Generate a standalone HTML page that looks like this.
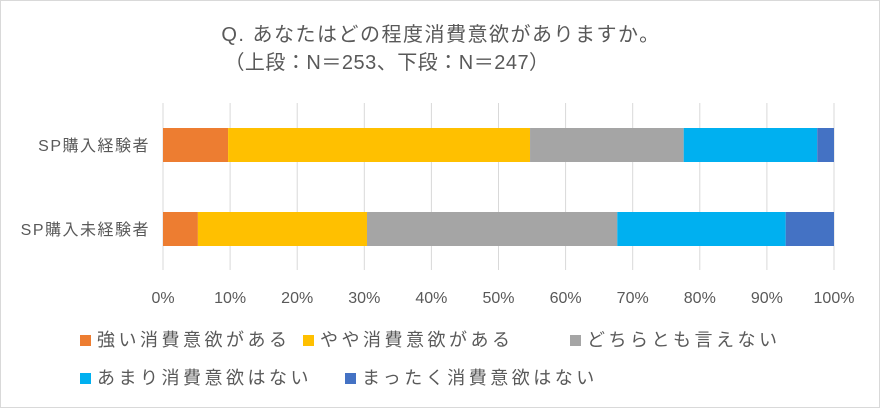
<!DOCTYPE html>
<html><head><meta charset="utf-8"><style>
body{margin:0;background:#fff}
#c{position:relative;width:880px;height:408px;overflow:hidden;font-family:"Liberation Sans","Noto Sans CJK JP",sans-serif;color:#595959}
svg text{font-family:"Liberation Sans","Noto Sans CJK JP",sans-serif}
</style></head><body>
<div id="c">
<svg id="s" width="880" height="408">
<rect x="0.5" y="0.5" width="879" height="407" fill="#fff" stroke="#d9d9d9"/>
<text x="441" y="41" text-anchor="middle" font-size="20" letter-spacing="1.5" fill="#595959">Q. あなたはどの程度消費意欲がありますか。</text>
<text x="387" y="69" text-anchor="middle" font-size="20" letter-spacing="0.5" fill="#595959">（上段：N＝253、下段：N＝247）</text>
<g id="grid"></g><g id="bars"></g><g id="ticks"></g><g id="legend"></g>
</svg>
</div>
<script>
const categories=["SP購入経験者","SP購入未経験者"];
const seriesNames=["強い消費意欲がある","やや消費意欲がある","どちらとも言えない","あまり消費意欲はない","まったく消費意欲はない"];
const strong=[9.7,5.2];
const somewhat=[45.0,25.2];
const neutral=[22.9,37.3];
const notMuch=[19.9,25.1];
const none=[2.5,7.2];
const tickLabels=["0%","10%","20%","30%","40%","50%","60%","70%","80%","90%","100%"];
const colors=["#ED7D31","#FFC000","#A5A5A5","#00B0F0","#4472C4"];
const NS="http://www.w3.org/2000/svg";
const x0=163,pw=671,rowY=[128,212],bh=34;
const xs=v=>x0+v/100*pw;
function mk(t,a,p){const e=document.createElementNS(NS,t);for(const k in a)e.setAttribute(k,a[k]);p.appendChild(e);return e;}
const grid=document.getElementById('grid'),bars=document.getElementById('bars'),ticks=document.getElementById('ticks'),leg=document.getElementById('legend');
tickLabels.forEach((t,i)=>{const x=xs(i*10);
const l=mk('line',{x1:x,x2:x,y1:103,y2:270,stroke:'#d9d9d9','stroke-width':1},grid);


const tx=mk('text',{x:x,y:303,'text-anchor':'middle','font-size':16,fill:'#595959'},ticks);tx.textContent=t;

});
const series=[strong,somewhat,neutral,notMuch,none];
categories.forEach((c,ci)=>{let acc=0;
series.forEach((s,si)=>{const r=mk('rect',{x:xs(acc),y:rowY[ci],width:xs(acc+s[ci])-xs(acc),height:bh,fill:colors[si]},bars);


acc+=s[ci];});
const t=mk('text',{x:150,y:rowY[ci]+bh/2+6,'text-anchor':'end','font-size':16,'letter-spacing':1.5,fill:'#595959'},ticks);t.textContent=c;

});
const lp=[[80,340],[303,340],[570,340],[80,378],[345,378]];
seriesNames.forEach((n,i)=>{const g=mk('g',{},leg);


mk('rect',{x:lp[i][0],y:lp[i][1]-5,width:11,height:11,fill:colors[i]},g);
const t=mk('text',{x:lp[i][0]+17,y:lp[i][1]+6,'font-size':18,'letter-spacing':3.5,fill:'#595959'},g);t.textContent=n;});
</script>
</body></html>
